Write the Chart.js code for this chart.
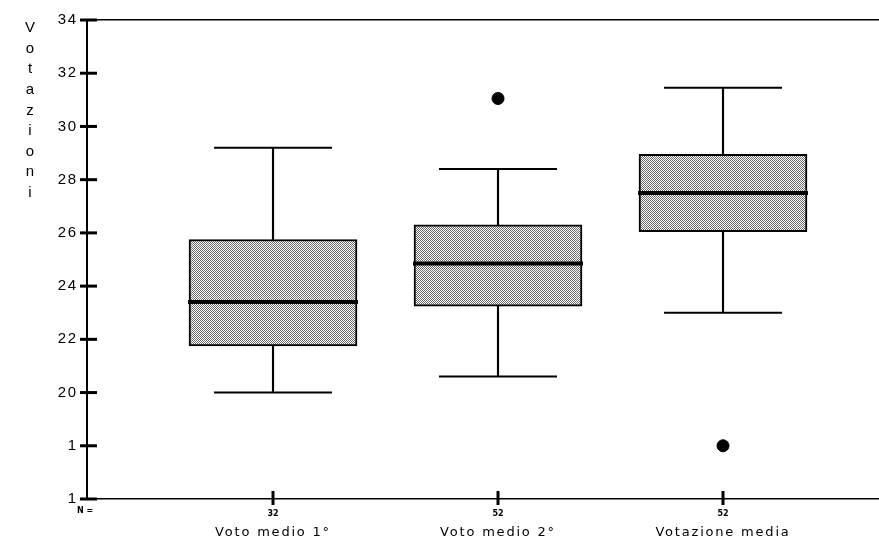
<!DOCTYPE html>
<html>
<head>
<meta charset="utf-8">
<script src="https://cdn.jsdelivr.net/npm/chart.js@4/dist/chart.umd.min.js"></script>
<style>
  html, body { margin: 0; padding: 0; background: #fff; }
  #wrap { width: 879px; height: 541px; }
</style>
</head>
<body>
<div id="wrap"><canvas id="chart"></canvas></div>
<script>
// values
const categories = ['Voto medio 1°', 'Voto medio 2°', 'Votazione media'];
const xPositions = [1, 2, 3];
const nCounts = ['32', '52', '52'];
const mins = [20.0, 20.6, 23.0];
const q1s = [21.75, 23.25, 26.05];
const medians = [23.4, 24.85, 27.5];
const q3s = [25.75, 26.3, 28.95];
const maxs = [29.2, 28.4, 31.45];
const outlierX = [2, 3];
const outlierY = [31.05, 18.0];
const yTickValues = [16, 18, 20, 22, 24, 26, 28, 30, 32, 34];
const yTickLabels = ['1', '1', '20', '22', '24', '26', '28', '30', '32', '34'];
const yTitle = 'Votazioni';

// stippled grey fill like the scan
function makePattern() {
    let c = document.createElement('canvas');
    c.width = 4; c.height = 4;
    let g = c.getContext('2d');
    g.fillStyle = '#ffffff';
    g.fillRect(0, 0, 4, 4);
    g.fillStyle = '#6e6e6e';
    for (let y = 0; y < 4; y++) {
        for (let x = 0; x < 4; x++) {
            if ((x + y) % 2 == 0) g.fillRect(x, y, 1, 1);
        }
    }
    return g.createPattern(c, 'repeat');
}

const boxData = xPositions.map((x, i) => ({x: x, y: [q1s[i], q3s[i]]}));
const whiskerData = xPositions.map((x, i) => ({x: x, y: [mins[i], maxs[i]]}));
const medianData = xPositions.map((x, i) => ({x: x, y: medians[i]}));
const capData = xPositions.map((x, i) => ({x: x, y: mins[i]}))
    .concat(xPositions.map((x, i) => ({x: x, y: maxs[i]})));
const outlierData = outlierX.map((x, i) => ({x: x, y: outlierY[i]}));

const font = "'DejaVu Sans', sans-serif";
const font2 = "'Liberation Sans', Arial, sans-serif";

const decor = {
    id: 'decor',
    beforeDraw(chart) {
        chart.ctx.letterSpacing = '1.8px';
    },
    afterDraw(chart) {
        const ctx = chart.ctx;
        const ys = chart.scales.y;
        const xs = chart.scales.x;
        const area = chart.chartArea;
        ctx.save();
        ctx.strokeStyle = '#000';
        ctx.lineWidth = 3;
        // y tick marks crossing the axis
        yTickValues.forEach(v => {
            let py = ys.getPixelForValue(v);
            ctx.beginPath();
            ctx.moveTo(area.left - 7, py);
            ctx.lineTo(area.left + 10, py);
            ctx.stroke();
        });
        // x tick marks
        xPositions.forEach(v => {
            let px = xs.getPixelForValue(v);
            ctx.beginPath();
            ctx.moveTo(px, area.bottom - 8);
            ctx.lineTo(px, area.bottom + 6);
            ctx.stroke();
        });
        // N counts
        ctx.fillStyle = '#000';
        ctx.letterSpacing = '0px';
        ctx.font = "bold 8px " + font;
        ctx.textAlign = 'center';
        ctx.textBaseline = 'middle';
        xPositions.forEach((v, i) => {
            ctx.fillText(nCounts[i], xs.getPixelForValue(v), area.bottom + 15);
        });
        ctx.fillText('N =', area.left - 2, area.bottom + 12);
        // vertical stacked title
        ctx.font = "15px " + font2;
        for (let i = 0; i < yTitle.length; i++) {
            ctx.fillText(yTitle[i], 30, 28 + i * 20.6);
        }
        ctx.restore();
    }
};

const ctx = document.getElementById('chart').getContext('2d');
new Chart(ctx, {
    type: 'bar',
    data: {
        datasets: [
            {
                type: 'scatter',
                data: outlierData,
                pointStyle: 'circle',
                pointRadius: 6,
                backgroundColor: '#000',
                borderColor: '#000',
                order: 0
            },
            {
                type: 'scatter',
                data: medianData,
                pointStyle: 'line',
                pointRadius: 85,
                borderWidth: 4,
                borderColor: '#000',
                order: 1
            },
            {
                type: 'scatter',
                data: capData,
                pointStyle: 'line',
                pointRadius: 59,
                borderWidth: 2,
                borderColor: '#000',
                order: 1
            },
            {
                data: boxData,
                grouped: false,
                barThickness: 168,
                backgroundColor: makePattern(),
                borderColor: '#000',
                borderWidth: 2,
                borderSkipped: false,
                order: 2
            },
            {
                data: whiskerData,
                grouped: false,
                barThickness: 1.5,
                backgroundColor: '#000',
                borderWidth: 0,
                order: 3
            }
        ]
    },
    options: {
        responsive: true,
        maintainAspectRatio: false,
        animation: false,
        layout: { padding: 0, autoPadding: false },
        plugins: {
            legend: { display: false },
            tooltip: { enabled: false }
        },
        scales: {
            x: {
                type: 'linear',
                position: 'bottom',
                offset: false,
                min: 0.1733,
                max: 3.6933,
                afterFit(scale) { scale.height = 42; },
                afterBuildTicks(scale) { scale.ticks = xPositions.map(v => ({value: v})); },
                grid: { display: false, drawTicks: false, offset: false },
                border: { display: true, color: '#000', width: 1.5 },
                ticks: {
                    padding: 26,
                    color: '#000',
                    font: { family: font, size: 13 },
                    callback: (v) => categories[xPositions.indexOf(v)]
                }
            },
            x2: {
                type: 'linear',
                position: 'top',
                offset: false,
                min: 0.1733,
                max: 3.6933,
                afterFit(scale) { scale.height = 20; },
                grid: { display: false, drawTicks: false },
                border: { display: true, color: '#000', width: 1.5 },
                ticks: { display: false }
            },
            y: {
                min: 16,
                max: 34,
                afterFit(scale) { scale.width = 87; },
                afterBuildTicks(scale) { scale.ticks = yTickValues.map(v => ({value: v})); },
                grid: { display: false, drawTicks: false },
                border: { display: true, color: '#000', width: 2 },
                ticks: {
                    padding: 9,
                    color: '#000',
                    font: { family: font2, size: 15 },
                    callback: (v) => yTickLabels[yTickValues.indexOf(v)]
                }
            }
        }
    },
    plugins: [decor]
});
</script>
</body>
</html>
